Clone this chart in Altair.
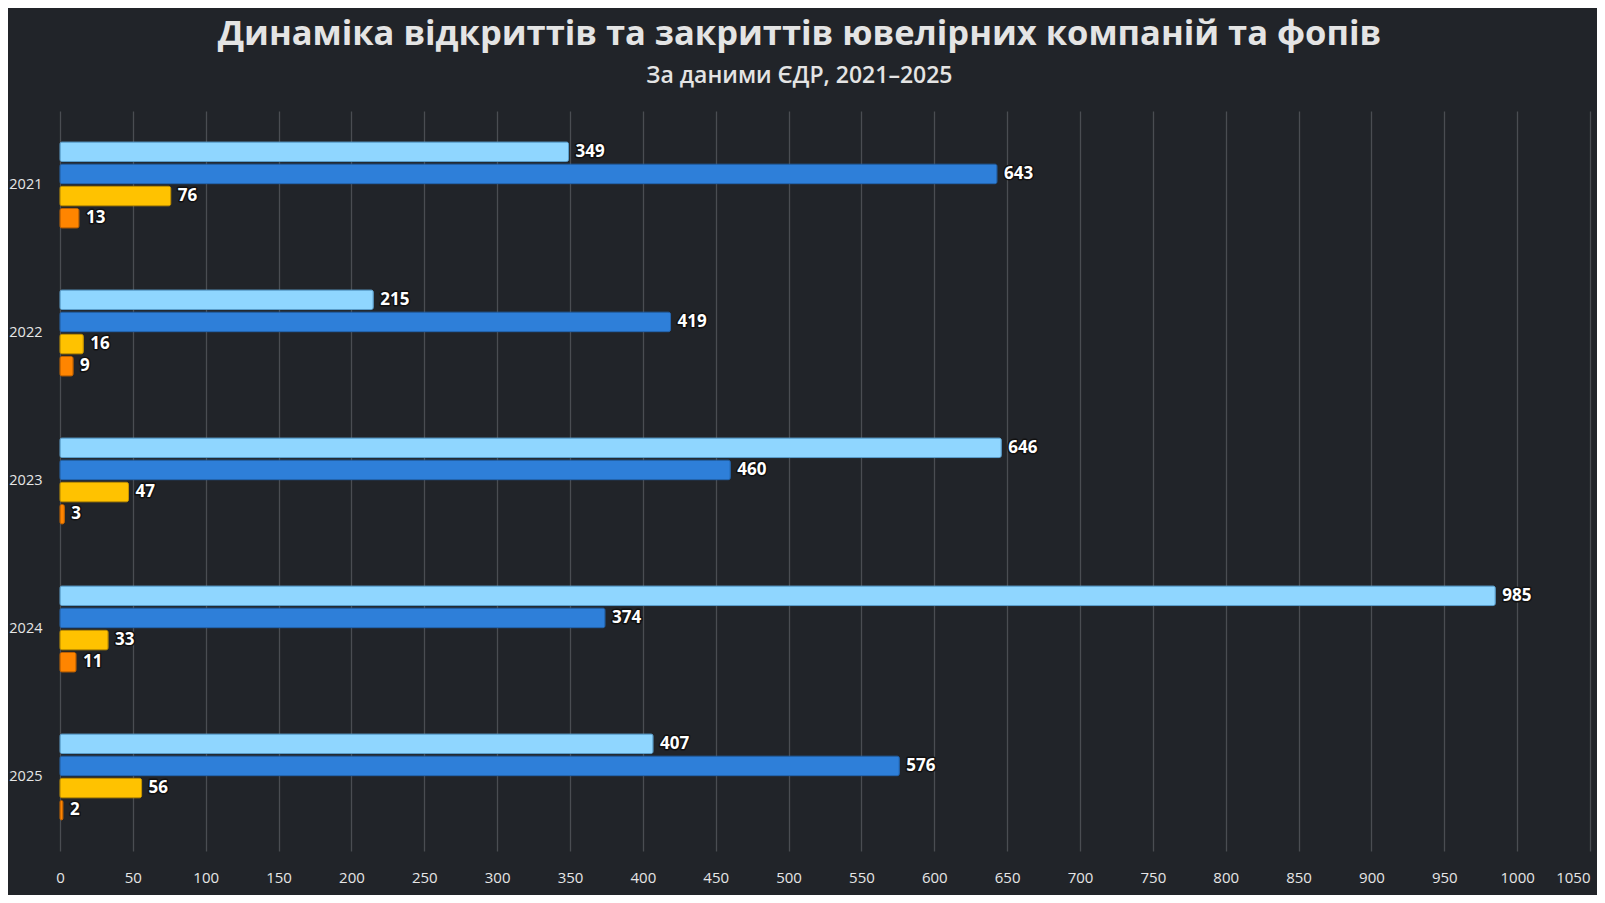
import altair as alt
import pandas as pd

years = ["2021", "2022", "2023", "2024", "2025"]
series = ["ФОП — відкриття", "ФОП — закриття", "Компанії — відкриття", "Компанії — закриття"]
s1 = [349, 215, 646, 985, 407]
s2 = [643, 419, 460, 374, 576]
s3 = [76, 16, 47, 33, 56]
s4 = [13, 9, 3, 11, 2]
colors = ["#8fd6ff", "#2e7fd9", "#ffc200", "#ff8500"]
strokes = ["#5c9fcc", "#2466b0", "#c79500", "#c46400"]
x_ticks = list(range(0, 1051, 50))

rows = []
for vals, name in zip([s1, s2, s3, s4], series):
    for y, v in zip(years, vals):
        rows.append({"year": y, "series": name, "value": v})
df = pd.DataFrame(rows)

y_enc = alt.Y("year:N", sort=years,
              scale=alt.Scale(paddingInner=0.42, paddingOuter=0.21),
              axis=alt.Axis(title=None, labelColor="#e6e6e6", labelFontSize=14.5,
                            labelFont="Open Sans", labelPadding=18, ticks=False,
                            domain=False, grid=False))
yoff = alt.YOffset("series:N", sort=series,
                   scale=alt.Scale(paddingInner=0.12, paddingOuter=0))
x_enc = alt.X("value:Q",
              scale=alt.Scale(domain=[0, 1050], nice=False),
              axis=alt.Axis(title=None, values=x_ticks, format="d", labelColor="#e6e6e6",
                            labelFontSize=15, labelFont="Open Sans", labelPadding=19,
                            ticks=False, domain=False, grid=True, gridColor="#4a4d52",
                            gridWidth=1.3,
                            labelAlign={"condition": {"test": "datum.value == 1050", "value": "right"},
                                        "value": "center"}))

bars = alt.Chart(df).mark_bar(cornerRadius=2, strokeWidth=1).encode(
    x=x_enc, y=y_enc, yOffset=yoff,
    color=alt.Color("series:N", sort=series,
                    scale=alt.Scale(domain=series, range=colors), legend=None),
    stroke=alt.Stroke("series:N", sort=series,
                      scale=alt.Scale(domain=series, range=strokes), legend=None),
)

text_base = alt.Chart(df).encode(
    x=alt.X("value:Q"), y=alt.Y("year:N", sort=years), yOffset=yoff,
    text=alt.Text("value:Q"),
)
halo = text_base.mark_text(align="left", baseline="middle", dx=7, fontSize=17,
                           fontWeight="bold", font="Open Sans", color="#111111",
                           stroke="#111111", strokeWidth=3, strokeJoin="round")
labels = text_base.mark_text(align="left", baseline="middle", dx=7, fontSize=17,
                             fontWeight="bold", font="Open Sans", color="#ffffff")

chart = alt.layer(bars, halo, labels).properties(
    width=1530, height=740,
    background="#212429",
    padding={"left": 52, "top": 103, "right": 7, "bottom": 44},
    autosize=alt.AutoSizeParams(type="none"),
    title=alt.TitleParams(
        text="Динаміка відкриттів та закриттів ювелірних компаній та фопів",
        subtitle="За даними ЄДР, 2021–2025",
        anchor="middle", frame="bounds",
        font="Open Sans", fontSize=34.5, fontWeight="bold", color="#e4e4e4",
        subtitleFont="Open Sans", subtitleFontSize=23, subtitleFontWeight=600,
        subtitleColor="#e4e4e4", subtitlePadding=13, offset=22,
    ),
).configure_view(stroke=None)

chart.save("out.html", embed_options={"renderer": "svg", "actions": False})
